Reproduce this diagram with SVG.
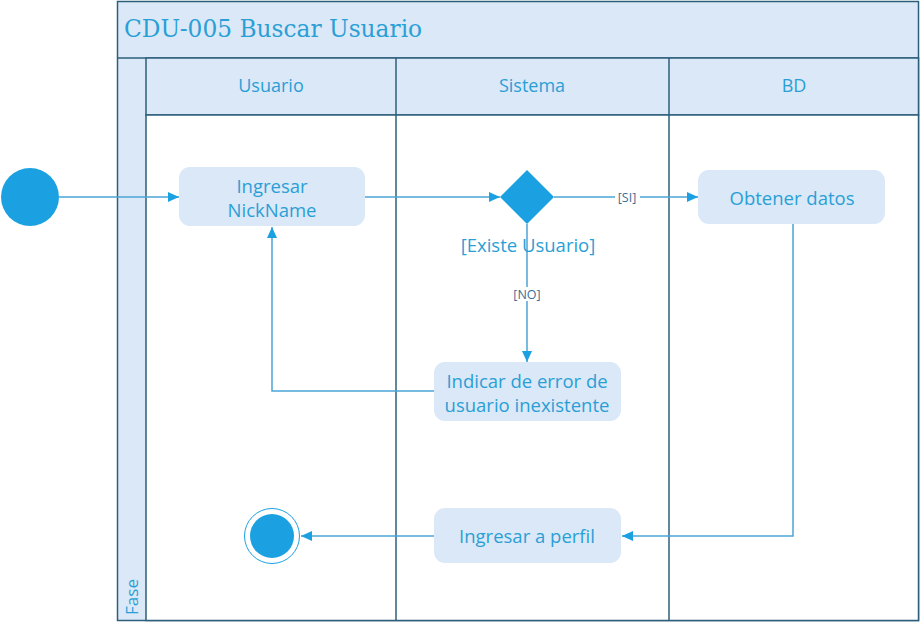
<svg xmlns="http://www.w3.org/2000/svg" width="921" height="628" viewBox="0 0 921 628">
<style>
.frame{fill:#dae8f7;stroke:#2c5f7c;stroke-width:1.5}
.lane{fill:#ffffff;stroke:#2c5f7c;stroke-width:1.5}
.node{fill:#dae8f7;stroke:none}
.t{font-family:"Open Sans","Noto Sans",sans-serif;fill:#2a9fd6;text-anchor:middle;dominant-baseline:central}
.hdr{font-size:18px}
.lbl{font-size:18.5px}
.small{font-size:12.5px;fill:#3a6f95}
.title{font-family:"DejaVu Serif","Liberation Serif",serif;font-size:23.3px;fill:#2a9fd6}
.conn{fill:none;stroke:#4ba5d6;stroke-width:1.5}
.solid{fill:#1ba1e2}
</style>
<defs>
<marker id="arr" markerWidth="12" markerHeight="12" refX="11" refY="6" orient="auto" markerUnits="userSpaceOnUse">
<path d="M0,1 L11,6 L0,11 Z" fill="#1ba1e2"/>
</marker>
</defs>
<g id="pool">
<rect class="frame" x="117.5" y="1.5" width="801" height="619"/>
<line x1="117.5" y1="58" x2="918.5" y2="58" stroke="#2c5f7c" stroke-width="1.5"/>
<rect class="frame" x="146" y="58" width="772.5" height="57"/>
<rect class="lane" x="146" y="115" width="772.5" height="505.5"/>
<line x1="396" y1="58" x2="396" y2="620.5" stroke="#2c5f7c" stroke-width="1.5"/>
<line x1="669" y1="58" x2="669" y2="620.5" stroke="#2c5f7c" stroke-width="1.5"/>
<text class="title" x="124" y="37">CDU-005 Buscar Usuario</text>
<text class="t hdr" x="271" y="85">Usuario</text>
<text class="t hdr" x="532" y="85">Sistema</text>
<text class="t hdr" x="794" y="85">BD</text>
<text class="t" font-size="17" transform="translate(131,597) rotate(-90)">Fase</text>
</g>
<g id="connectors">
<line class="conn" x1="59" y1="197" x2="179" y2="197" marker-end="url(#arr)"/>
<line class="conn" x1="365" y1="197" x2="500" y2="197" marker-end="url(#arr)"/>
<line class="conn" x1="554" y1="197" x2="698" y2="197" marker-end="url(#arr)"/>
<rect x="615" y="190" width="25" height="14" fill="#ffffff"/>
<text class="t small" x="627" y="197">[SI]</text>
<line class="conn" x1="527" y1="224" x2="527" y2="362" marker-end="url(#arr)"/>
<rect x="511" y="287" width="33" height="14" fill="#ffffff"/>
<text class="t small" x="527" y="294">[NO]</text>
<polyline class="conn" points="434,391 272,391 272,227" marker-end="url(#arr)"/>
<polyline class="conn" points="793,224 793,536 622,536" marker-end="url(#arr)"/>
<line class="conn" x1="434" y1="536" x2="301" y2="536" marker-end="url(#arr)"/>
</g>
<g id="start"><circle class="solid" cx="30" cy="197" r="29"/></g>
<g id="ingresar-nickname">
<rect class="node" x="179" y="167" width="186" height="59" rx="11"/>
<text class="t lbl" x="272" y="185">Ingresar</text>
<text class="t lbl" x="272" y="209">NickName</text>
</g>
<g id="decision">
<polygon class="solid" points="527,170 554,197 527,224 500,197"/>
<text class="t lbl" x="528" y="244">[Existe Usuario]</text>
</g>
<g id="obtener-datos">
<rect class="node" x="698" y="170" width="187" height="54" rx="11"/>
<text class="t lbl" x="792" y="197">Obtener datos</text>
</g>
<g id="indicar-error">
<rect class="node" x="434" y="362" width="187" height="59" rx="11"/>
<text class="t lbl" x="527" y="380">Indicar de error de</text>
<text class="t lbl" x="527" y="404">usuario inexistente</text>
</g>
<g id="ingresar-perfil">
<rect class="node" x="434" y="508" width="187" height="55" rx="11"/>
<text class="t lbl" x="527" y="535">Ingresar a perfil</text>
</g>
<g id="end">
<circle cx="272" cy="536" r="27.5" fill="#ffffff" stroke="#1ba1e2" stroke-width="1"/>
<circle class="solid" cx="272" cy="536" r="22"/>
</g>
</svg>
